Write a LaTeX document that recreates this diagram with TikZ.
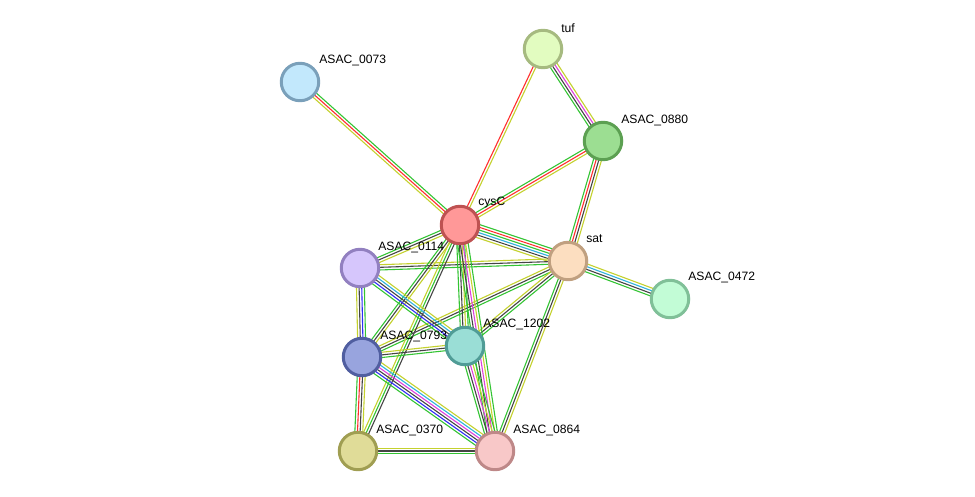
\documentclass[tikz,border=0pt]{standalone}
\usepackage{fontspec}
\setmainfont{Liberation Sans}
\usetikzlibrary{calc,backgrounds}
% evidence channels
\definecolor{tm}{HTML}{C4D12E}
\definecolor{nb}{HTML}{33C433}
\definecolor{cx}{HTML}{444444}
\definecolor{fu}{HTML}{FF2E2E}
\definecolor{db}{HTML}{2FB2DE}
\definecolor{ex}{HTML}{DD3FDD}
\definecolor{co}{HTML}{2E2EF5}
% protein fill / border
\definecolor{f0073}{HTML}{C2E8FC}\definecolor{d0073}{HTML}{7AA0BA}
\definecolor{ftuf}{HTML}{E2FCC0}\definecolor{dtuf}{HTML}{A6BA80}
\definecolor{f0880}{HTML}{9CDE92}\definecolor{d0880}{HTML}{5CA052}
\definecolor{fcys}{HTML}{FF9898}\definecolor{dcys}{HTML}{BE5252}
\definecolor{fsat}{HTML}{FCDEC0}\definecolor{dsat}{HTML}{C0A080}
\definecolor{f0472}{HTML}{C2FCD6}\definecolor{d0472}{HTML}{80C098}
\definecolor{f0114}{HTML}{D6C6FC}\definecolor{d0114}{HTML}{9280C0}
\definecolor{f1202}{HTML}{9ADED6}\definecolor{d1202}{HTML}{509C96}
\definecolor{f0793}{HTML}{98A4DE}\definecolor{d0793}{HTML}{505EA0}
\definecolor{f0370}{HTML}{E0DC98}\definecolor{d0370}{HTML}{A09E52}
\definecolor{f0864}{HTML}{F8C8C8}\definecolor{d0864}{HTML}{BE8888}

% parallel coloured lines between two proteins
\newcommand\stredge[3]{%
  \foreach \c [count=\i] in {#3} {\xdef\nlines{\i}}%
  \foreach \c [count=\i] in {#3} {%
    \pgfmathsetlengthmacro\off{(\i-(\nlines+1)/2)*1.5pt}%
    \draw[\c,line width=.62pt] ($(#1)!\off!90:(#2)$) -- ($(#2)!\off!-90:(#1)$);}%
}

\begin{document}
\begin{tikzpicture}[x=.02cm,y=-.02cm,
  prot/.style={circle,minimum size=.75cm,inner sep=0pt,line width=1.7pt},
  lbl/.style={anchor=west,inner sep=0pt,font=\fontsize{6.9}{8}\selectfont}]
\useasboundingbox (0,0) rectangle (975,497);
% proteins
\node[prot,fill=f0073,draw=d0073] (a0073) at (300,82) {};
\node[prot,fill=ftuf,draw=dtuf] (tuf) at (543,49) {};
\node[prot,fill=f0880,draw=d0880] (a0880) at (603,141) {};
\node[prot,fill=fcys,draw=dcys] (cysC) at (460,225) {};
\node[prot,fill=fsat,draw=dsat] (sat) at (568,261) {};
\node[prot,fill=f0472,draw=d0472] (a0472) at (670,299) {};
\node[prot,fill=f0114,draw=d0114] (a0114) at (360,268) {};
\node[prot,fill=f1202,draw=d1202] (a1202) at (465,346) {};
\node[prot,fill=f0793,draw=d0793] (a0793) at (362,357) {};
\node[prot,fill=f0370,draw=d0370] (a0370) at (358,451) {};
\node[prot,fill=f0864,draw=d0864] (a0864) at (495,451) {};
% labels
\node[lbl] (a0073-l) at ($(a0073)+(19,-22)$) {ASAC\_0073};
\node[lbl] (tuf-l) at ($(tuf)+(18,-21)$) {tuf};
\node[lbl] (a0880-l) at ($(a0880)+(18,-21)$) {ASAC\_0880};
\node[lbl] (cysC-l) at ($(cysC)+(18,-22)$) {cysC};
\node[lbl] (sat-l) at ($(sat)+(18,-22)$) {sat};
\node[lbl] (a0472-l) at ($(a0472)+(18,-22)$) {ASAC\_0472};
\node[lbl] (a0114-l) at ($(a0114)+(18,-21)$) {ASAC\_0114};
\node[lbl] (a1202-l) at ($(a1202)+(18,-22)$) {ASAC\_1202};
\node[lbl] (a0793-l) at ($(a0793)+(18,-21)$) {ASAC\_0793};
\node[lbl] (a0370-l) at ($(a0370)+(18,-21)$) {ASAC\_0370};
\node[lbl] (a0864-l) at ($(a0864)+(18,-21)$) {ASAC\_0864};
% interactions
\begin{pgfonlayer}{background}
\fill[white] (0,0) rectangle (975,497);
\stredge{a0073}{cysC}{tm,fu,nb}
\stredge{tuf}{cysC}{fu,tm}
\stredge{tuf}{a0880}{nb,cx,ex,tm}
\stredge{a0880}{cysC}{nb,fu,tm}
\stredge{a0880}{sat}{nb,fu,cx,tm}
\stredge{cysC}{sat}{tm,cx,db,nb,fu,nb}
\stredge{sat}{a0472}{nb,cx,db,tm}
\stredge{sat}{a0114}{tm,cx,nb}
\stredge{sat}{a0793}{tm,cx,nb}
\stredge{sat}{a1202}{tm,cx,nb}
\stredge{sat}{a0864}{nb,cx,tm}
\stredge{cysC}{a0114}{nb,cx,tm}
\stredge{cysC}{a0793}{nb,cx,tm}
\stredge{cysC}{a1202}{nb,cx,tm,nb}
\stredge{cysC}{a0864}{nb,cx,ex,tm,nb}
\stredge{cysC}{a0370}{tm,nb,cx}
\stredge{a0114}{a0793}{tm,cx,co,nb}
\stredge{a0114}{a1202}{nb,co,cx,db,tm}
\stredge{a0793}{a1202}{nb,cx,tm}
\stredge{a0793}{a0370}{nb,fu,cx,tm}
\stredge{a0793}{a0864}{nb,co,cx,ex,db,tm}
\stredge{a1202}{a0864}{nb,cx,ex,tm,nb}
\stredge{a0370}{a0864}{nb,cx,tm}
\end{pgfonlayer}
\end{tikzpicture}
\end{document}
